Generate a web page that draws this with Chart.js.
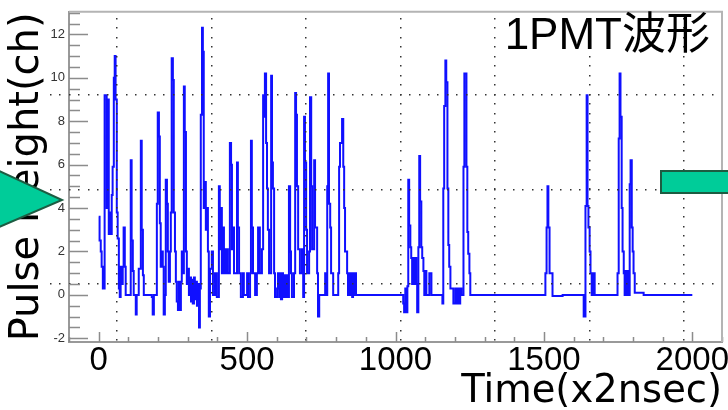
<!DOCTYPE html>
<html>
<head>
<meta charset="utf-8">
<script src="https://cdn.jsdelivr.net/npm/chart.js@4.4.1/dist/chart.umd.min.js"></script>
<style>
  html, body { margin: 0; padding: 0; background: #fff; }
  #wrap { width: 728px; height: 410px; }
</style>
</head>
<body>
<div id="wrap"><canvas id="chart" width="728" height="410"></canvas></div>
<script>
// waveform: time (x2nsec) where the level changes, and the new level (ch)
const sampleTime = [
    0, 3, 7, 10, 14, 20, 27, 30, 34, 37, 41, 44, 47, 51, 54, 57, 61, 64, 68, 71,
    74, 78, 81, 84, 88, 91, 108, 111, 115, 118, 125, 128, 135, 142, 145, 149, 152, 179, 182, 186,
    196, 199, 203, 206, 209, 213, 216, 219, 223, 226, 230, 233, 236, 240, 243, 246, 250, 253, 257, 260,
    263, 267, 270, 273, 277, 280, 284, 287, 290, 294, 297, 300, 304, 307, 311, 314, 317, 321, 324, 327,
    331, 334, 338, 341, 344, 348, 351, 354, 358, 361, 365, 368, 371, 375, 381, 385, 392, 398, 405, 408,
    412, 415, 419, 422, 425, 429, 432, 435, 442, 446, 449, 452, 456, 466, 469, 473, 479, 486, 489, 500,
    503, 510, 513, 516, 520, 527, 533, 537, 543, 550, 554, 557, 560, 564, 567, 570, 574, 581, 584, 587,
    591, 594, 601, 604, 608, 611, 614, 618, 621, 624, 628, 631, 635, 641, 645, 648, 651, 658, 662, 665,
    668, 672, 678, 685, 689, 692, 695, 699, 702, 709, 712, 716, 719, 726, 729, 736, 739, 743, 763, 766,
    770, 773, 776, 780, 783, 790, 807, 810, 813, 820, 824, 827, 830, 837, 840, 844, 847, 851, 854, 857,
    861, 864, 867, 1026, 1029, 1033, 1036, 1040, 1043, 1046, 1050, 1053, 1056, 1060, 1063, 1067, 1070, 1073, 1077, 1080,
    1083, 1087, 1090, 1094, 1097, 1100, 1104, 1114, 1121, 1158, 1161, 1164, 1168, 1171, 1175, 1178, 1181, 1185, 1195, 1202,
    1208, 1212, 1215, 1218, 1222, 1229, 1232, 1239, 1242, 1245, 1249, 1252, 1505, 1509, 1512, 1515, 1519, 1529, 1563, 1634,
    1640, 1644, 1647, 1650, 1654, 1657, 1661, 1667, 1671, 1748, 1752, 1755, 1758, 1762, 1765, 1769, 1772, 1775, 1779, 1782,
    1785, 1789, 1792, 1796, 1799, 1802, 1806, 1836, 2000
];
const pulseHeight = [
    3.6, 2.5, 2.0, 1.3, 0.3, 9.2, 4.0, 9.0, 2.8, 3.8, 2.8, 4.6, 5.9, 10.0, 11.0, 9.0, 3.8, 2.6, 0.3, -0.1,
    1.3, 0.5, 1.3, 3.1, 1.3, 0.0, 6.2, 2.5, 1.1, 0.0, -0.9, 0.0, 1.2, 7.1, 3.0, 0.9, 0.0, -0.1, -0.9, 0.0,
    4.2, 8.4, 7.3, 3.3, 1.3, 2.0, 1.3, -0.9, 0.0, 5.3, 4.2, 2.0, 0.6, 2.0, 3.8, 10.9, 9.9, 3.8, 2.0, 0.6,
    -0.3, -0.7, 0.6, -0.7, 0.6, 2.0, 1.0, 9.6, 7.5, 2.0, 0.5, 1.2, 0.0, 0.8, -0.3, 0.7, -0.4, 0.8, -0.2, 0.6,
    -0.5, 0.5, -1.5, 0.3, 8.3, 12.3, 11.2, 4.0, 5.2, 3.0, 4.0, 2.0, -1.0, 1.2, 2.0, 0.0, 1.0, -0.1, 5.0, 2.1,
    4.0, 1.0, 3.1, 1.0, 2.1, 1.0, 2.1, 1.0, 7.0, 6.0, 2.1, 3.1, 1.0, 6.1, 3.1, 1.0, -0.1, 1.0, 0.0, 1.0,
    -0.1, 1.0, 7.1, 3.1, 1.0, 0.0, 1.0, 3.1, 1.0, 2.1, 9.2, 8.2, 10.2, 7.0, 4.9, 3.0, 1.0, 10.1, 6.1, 4.9,
    1.0, -0.1, 0.3, 1.0, -0.1, 1.0, -0.2, 1.0, -0.1, 0.9, -0.1, 0.9, -0.1, 5.0, 2.0, 1.0, -0.1, 1.0, 9.3, 8.3,
    5.0, 2.1, 1.0, 2.1, -0.1, 8.2, 6.1, 3.0, 1.0, 2.0, 9.1, 5.0, 2.1, 6.2, 3.1, 1.0, -1.0, 0.0, 1.0, 0.0,
    5.0, 10.2, 4.2, 3.1, 1.0, 0.0, 1.0, 5.9, 7.0, 8.1, 5.9, 4.0, 2.0, 1.0, 0.0, 1.0, 0.0, 1.0, -0.1, 1.0,
    0.0, 1.0, 0.0, -0.4, -0.8, 0.3, -0.8, 0.4, 5.3, 3.2, 2.2, 1.7, 0.5, 1.7, 0.5, 1.7, 0.5, -0.8, 2.2, 6.4,
    4.3, 2.2, 1.7, 1.1, 0.0, 1.1, 0.0, 1.0, 0.0, -0.4, 4.9, 8.7, 10.8, 9.8, 4.9, 2.3, 1.3, 0.3, -0.4, 0.3,
    -0.4, 0.3, -0.4, 0.3, 0.0, 5.9, 10.2, 5.9, 2.9, 1.9, 1.0, 0.0, 1.0, 3.1, 5.0, 3.1, 1.0, -0.05, 0.0, -1.0,
    4.1, 9.2, 4.1, 3.1, 2.0, 1.0, 0.0, 1.0, 0.0, 1.0, 7.2, 10.2, 8.2, 4.0, 2.0, 1.0, 0.0, 1.1, 0.0, 1.1,
    0.0, 5.1, 6.2, 3.1, 2.0, 1.0, 0.1, 0.0, 0.0
];
const xLabelTicks = [0, 500, 1000, 1500, 2000];
const yLabelTicks = [-2, 0, 2, 4, 6, 8, 10, 12];
const chartTitle = '1PMT波形';
const xTitle = 'Time(x2nsec)';
const yTitle = 'Pulse Height(ch)';

function isLabelled(list, v) {
    return list.some(l => Math.abs(l - v) < 1e-6);
}

// ROOT style: ticks point into the frame, grey frame round the plot
const innerTicks = {
    id: 'innerTicks',
    afterDatasetsDraw(chart) {
        const { ctx, chartArea: a, scales: { x, y } } = chart;
        ctx.save();
        ctx.strokeStyle = '#8c8c8c';
        ctx.lineWidth = 1.5;
        ctx.beginPath();
        y.ticks.forEach(t => {
            const py = Math.round(y.getPixelForValue(t.value)) + 0.5;
            const len = isLabelled(yLabelTicks, t.value) ? 19 : 11;
            ctx.moveTo(a.left, py);
            ctx.lineTo(a.left + len, py);
        });
        x.ticks.forEach(t => {
            const px = Math.round(x.getPixelForValue(t.value)) + 0.5;
            const len = isLabelled(xLabelTicks, t.value) ? 10 : 5;
            ctx.moveTo(px, a.bottom);
            ctx.lineTo(px, a.bottom - len);
        });
        ctx.stroke();
        ctx.strokeStyle = '#b4b4b4';
        ctx.lineWidth = 2;
        ctx.beginPath();
        ctx.moveTo(a.left, a.top);
        ctx.lineTo(a.right, a.top);
        ctx.lineTo(a.right, a.bottom);
        ctx.stroke();
        ctx.restore();
    }
};

// dotted guide grid of the slide the plot was pasted on
const slideGuides = {
    id: 'slideGuides',
    afterDatasetsDraw(chart) {
        const ctx = chart.ctx;
        ctx.save();
        ctx.fillStyle = '#333';
        for (let gx = 116; gx < 700; gx += 94.5) {
            for (let gy = 18; gy < 342; gy += 9.45) ctx.fillRect(Math.round(gx), Math.round(gy), 1.5, 1.5);
        }
        for (let gy = 94; gy < 300; gy += 94.5) {
            for (let gx = 50; gx < 715; gx += 9.45) ctx.fillRect(Math.round(gx), Math.round(gy), 1.5, 1.5);
        }
        ctx.restore();
    }
};

// title text and the green slide shapes on top
const slideOverlay = {
    id: 'slideOverlay',
    afterDraw(chart) {
        const ctx = chart.ctx;
        ctx.save();
        ctx.fillStyle = '#000';
        ctx.font = '44px "Liberation Sans", "Noto Sans CJK JP", sans-serif';
        ctx.textAlign = 'right';
        ctx.textBaseline = 'alphabetic';
        ctx.fillText(chartTitle, 710, 49);

        ctx.fillStyle = '#00cc99';
        ctx.strokeStyle = '#1d5c42';
        ctx.lineWidth = 2;
        ctx.beginPath();
        ctx.moveTo(-3, 170);
        ctx.lineTo(62, 200);
        ctx.lineTo(-3, 228);
        ctx.closePath();
        ctx.fill();
        ctx.stroke();

        ctx.beginPath();
        ctx.rect(661, 171, 72, 22);
        ctx.fill();
        ctx.stroke();
        ctx.restore();
    }
};

const ctx = document.getElementById('chart').getContext('2d');
const myChart = new Chart(ctx, {
    type: 'line',
    data: {
        datasets: [{
            data: sampleTime.map((t, i) => ({ x: t, y: pulseHeight[i] })),
            stepped: true,
            borderColor: '#1010ff',
            borderWidth: 2,
            pointRadius: 0,
            fill: false
        }]
    },
    options: {
        responsive: false,
        animation: false,
        devicePixelRatio: 1,
        layout: { padding: { top: 8, right: 6, left: 0, bottom: 0 } },
        plugins: {
            legend: { display: false },
            tooltip: { enabled: false }
        },
        scales: {
            x: {
                type: 'linear',
                min: -100,
                max: 2100,
                afterFit: s => { s.height = 68; },
                grid: { display: false, drawTicks: false },
                border: { display: true, color: '#999', width: 2 },
                ticks: {
                    stepSize: 100,
                    includeBounds: false,
                    autoSkip: false,
                    maxRotation: 0,
                    padding: 2,
                    color: '#000',
                    font: { family: 'Liberation Sans', size: 33, lineHeight: 1 },
                    callback: v => isLabelled(xLabelTicks, v) ? String(v) : ''
                },
                title: {
                    display: true,
                    text: xTitle,
                    align: 'end',
                    color: '#000',
                    padding: 0,
                    font: { family: 'DejaVu Sans', size: 38.5, lineHeight: 0.95 }
                }
            },
            y: {
                type: 'linear',
                min: -2.17,
                max: 13.04,
                afterFit: s => { s.width = 69; },
                grid: { display: false, drawTicks: false },
                border: { display: true, color: '#999', width: 2 },
                ticks: {
                    stepSize: 0.5,
                    includeBounds: false,
                    autoSkip: false,
                    padding: 4,
                    color: '#333',
                    font: { family: 'Liberation Sans', size: 13 },
                    callback: v => isLabelled(yLabelTicks, v) ? String(v) : ''
                },
                title: {
                    display: true,
                    text: yTitle,
                    color: '#000',
                    padding: { top: 8, bottom: 0 },
                    font: { family: 'DejaVu Sans', size: 40, lineHeight: 1 }
                }
            }
        }
    },
    plugins: [slideGuides, innerTicks, slideOverlay]
});
</script>
</body>
</html>
